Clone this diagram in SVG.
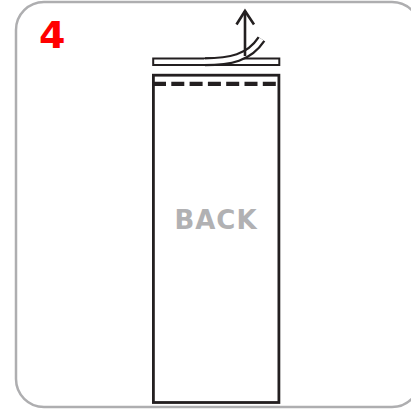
<svg xmlns="http://www.w3.org/2000/svg" width="411" height="409" viewBox="0 0 411 409">
<style>
.ink{fill:none;stroke:#231f20;}
</style>
<rect width="411" height="409" fill="#fff"/>
<g id="frame">
<rect x="16" y="2" width="404" height="405" rx="28" fill="#fff" stroke="#aeaeb0" stroke-width="2.5"/>
</g>
<g id="step-number">
<text x="39" y="48" font-family="DejaVu Sans, sans-serif" font-weight="bold" font-size="38" fill="#ff0000">4</text>
</g>
<g id="back-panel">
<rect class="ink" x="153.4" y="75.2" width="125.5" height="327.3" stroke-width="2.8"/>
<line class="ink" x1="153" y1="83.8" x2="277" y2="83.8" stroke-width="4.3" stroke-dasharray="13 5.3"/>
<text x="216" y="228.5" text-anchor="middle" font-family="DejaVu Sans, sans-serif" font-weight="bold" font-size="26" letter-spacing="1" fill="#b1b1b3">BACK</text>
</g>
<g id="strip">
<rect x="153.2" y="58.5" width="126.1" height="6.5" fill="#fff" stroke="#231f20" stroke-width="2"/>
<path d="M205 61.75 C230 61.75 249 58 261.5 39" fill="none" stroke="#231f20" stroke-width="9"/>
<path d="M204 61.75 C230 61.75 249 58 261.5 39" fill="none" stroke="#fff" stroke-width="4.5"/>
</g>
<g id="connectors">
<line class="ink" x1="245" y1="56" x2="245" y2="11" stroke-width="2.6"/>
<polyline class="ink" points="236.5,24.5 245,11 254,24.5" stroke-width="2.6"/>
</g>
</svg>
